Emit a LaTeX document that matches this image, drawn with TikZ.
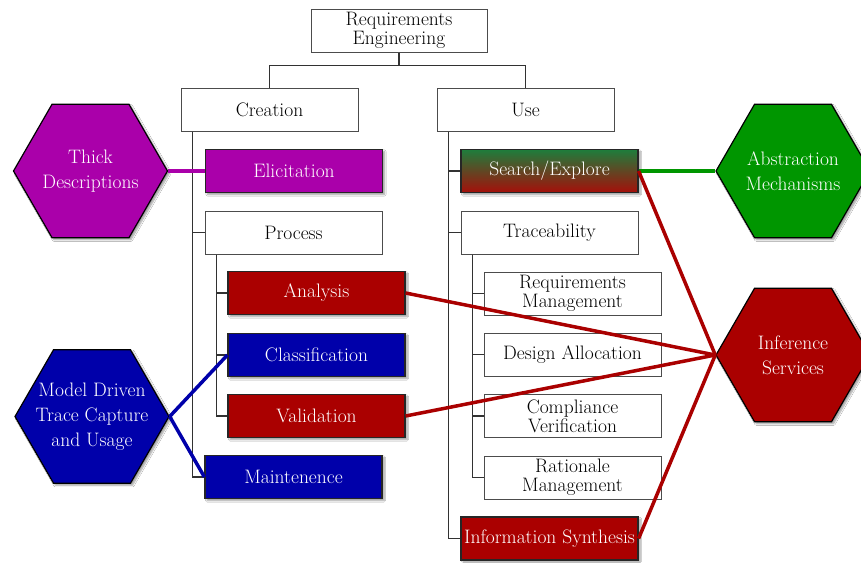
\documentclass[tikz,border=0pt]{standalone}
\usetikzlibrary{shapes.geometric,shadows.blur}
\definecolor{magentaA}{RGB}{170,0,170}
\definecolor{redA}{RGB}{170,0,0}
\definecolor{blueA}{RGB}{0,0,170}
\definecolor{greenA}{RGB}{0,150,0}
\definecolor{greenTop}{RGB}{30,125,60}
\definecolor{redBottom}{RGB}{165,15,10}
\definecolor{treeline}{RGB}{50,50,50}
\begin{document}
\begin{tikzpicture}[x=1pt,y=1pt,
  every node/.style={font=\fontsize{19.5}{19}\selectfont},
  plainbox/.style={draw=black!70, line width=1pt, fill=white, minimum width=177pt,
    minimum height=43pt, inner sep=0pt, align=center},
  colbox/.style={plainbox, draw=black!85, line width=1.2pt, text=white,
    blur shadow={shadow xshift=2pt, shadow yshift=-2pt, shadow blur steps=6, shadow opacity=40}},
  hexnode/.style={regular polygon, regular polygon sides=6, minimum size=154pt,
    inner sep=0pt, draw=black, line width=1.2pt,
    blur shadow={shadow xshift=2pt, shadow yshift=-2pt, shadow blur steps=6, shadow opacity=40}},
  hextext/.style={text=white, align=center, font=\fontsize{19.5}{25}\selectfont},
  tree/.style={draw=treeline, line width=1.2pt},
  link/.style={line width=3.5pt}
]
\clip (0,0) rectangle (861,-562);
\fill[white] (0,0) rectangle (861,-562);

% top levels
\node[plainbox, minimum width=176pt] (re) at (399,-30.5) {Requirements\\Engineering};
\node[plainbox] (cre) at (269.5,-109.5) {Creation};
\node[plainbox] (use) at (525.5,-109.5) {Use};

% creation branch
\node[colbox, fill=magentaA] (eli) at (294,-171) {Elicitation};
\node[plainbox] (pro) at (293.5,-232.5) {Process};
\node[colbox, fill=redA] (ana) at (316.5,-293) {Analysis};
\node[colbox, fill=blueA] (cla) at (316.5,-355) {Classification};
\node[colbox, fill=redA] (val) at (316.5,-416) {Validation};
\node[colbox, fill=blueA] (mai) at (293.5,-477) {Maintenence};

% use branch
\node[colbox, top color=greenTop, bottom color=redBottom] (sea) at (549.5,-171) {Search/Explore};
\node[plainbox] (tra) at (549.5,-232.5) {Traceability};
\node[plainbox] (rqm) at (572.5,-293.5) {Requirements\\Management};
\node[plainbox] (dal) at (572.5,-354.5) {Design Allocation};
\node[plainbox] (cov) at (572.5,-416) {Compliance\\Verification};
\node[plainbox] (ram) at (572.5,-477.5) {Rationale\\Management};
\node[colbox, fill=redA] (ins) at (549.5,-538.5) {Information Synthesis};

% tree connectors
\draw[tree] (re.south) -- ++(0,-13) -| (cre.north);
\draw[tree] (re.south) -- ++(0,-13) -| (use.north);
\foreach \c in {eli,pro,mai}
  \draw[tree] ([xshift=12pt]cre.south west) |- (\c.west);
\foreach \c in {ana,cla,val}
  \draw[tree] ([xshift=12pt]pro.south west) |- (\c.west);
\foreach \c in {sea,tra,ins}
  \draw[tree] ([xshift=12pt]use.south west) |- (\c.west);
\foreach \c in {rqm,dal,cov,ram}
  \draw[tree] ([xshift=12pt]tra.south west) |- (\c.west);

% hexagons
\node[hexnode, fill=magentaA] (thd) at (90.5,-171) {};
\node[hextext] at (thd) {Thick\\Descriptions};
\node[hexnode, fill=blueA] (mdt) at (92,-416.5) {};
\node[hextext] at (mdt) {Model Driven\\Trace Capture\\and Usage};
\node[hexnode, fill=greenA] (abm) at (793,-171) {};
\node[hextext] at (abm) {Abstraction\\Mechanisms};
\node[hexnode, fill=redA] (inf) at (793,-355) {};
\node[hextext] at (inf) {Inference\\Services};

% concept links
\draw[link, magentaA] (thd.east) -- (eli.west);
\draw[link, greenA] (abm.west) -- (sea.east);
\draw[link, blueA] (mdt.east) -- (cla.west);
\draw[link, blueA] (mdt.east) -- (mai.west);
\draw[link, redA] (sea.east) -- (inf.west);
\draw[link, redA] (ana.east) -- (inf.west);
\draw[link, redA] (val.east) -- (inf.west);
\draw[link, redA] (ins.east) -- (inf.west);
\end{tikzpicture}
\end{document}
